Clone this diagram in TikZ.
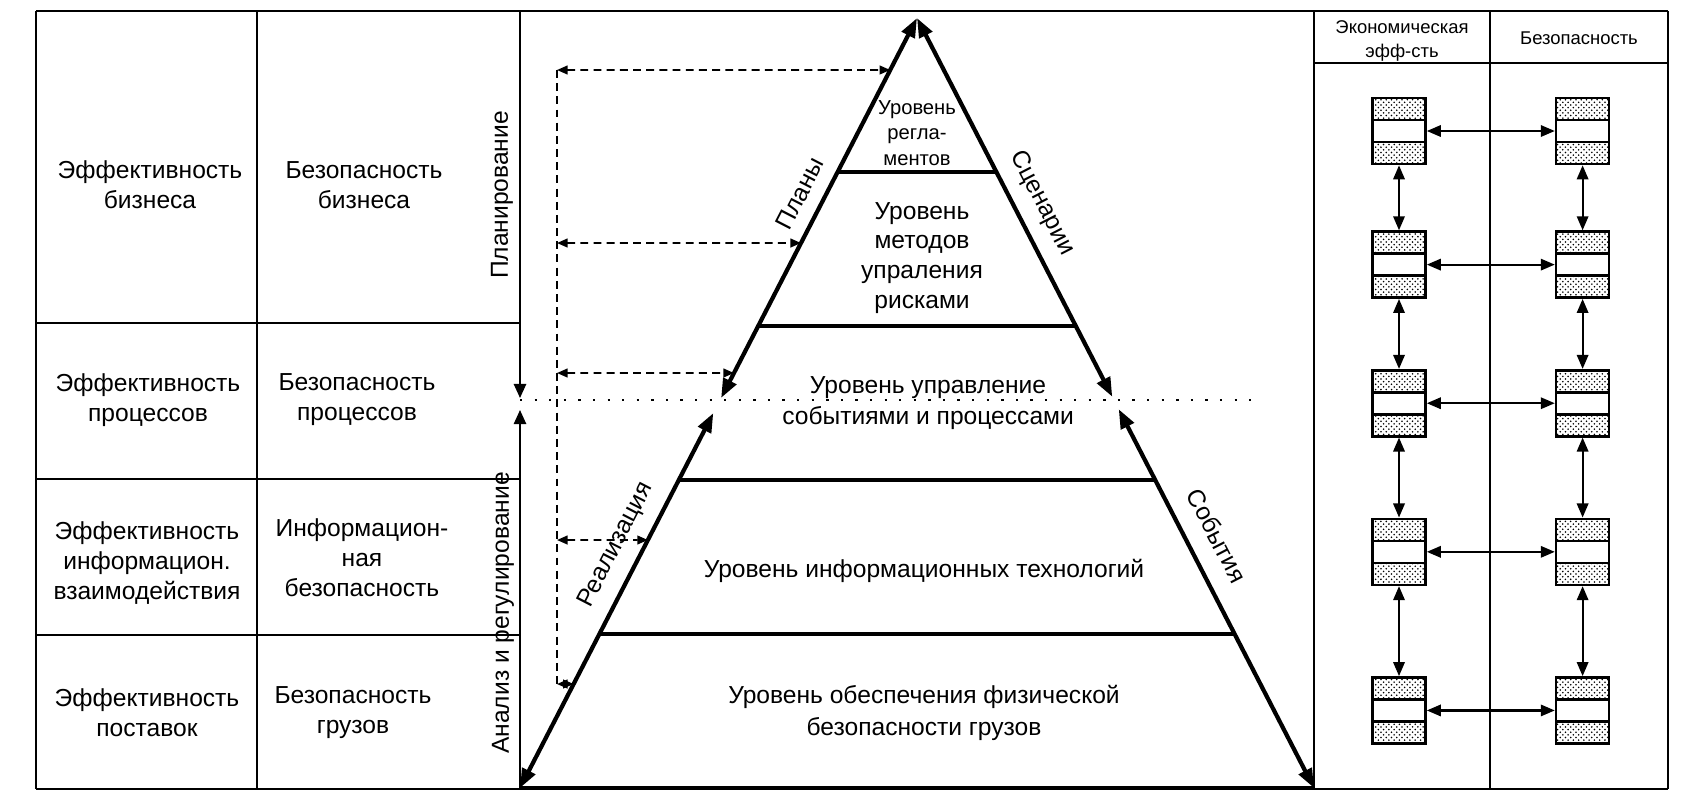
\documentclass[tikz,border=0pt]{standalone}
\usepackage{fontspec}
\setmainfont{Liberation Sans}
\usetikzlibrary{positioning, calc, arrows.meta, patterns}

\begin{document}
\begin{tikzpicture}[
    x=0.02cm, y=-0.02cm,
    cell/.style={align=center, font=\fontsize{14}{17}\selectfont},
    tier/.style={align=center, font=\fontsize{14}{18}\selectfont},
    sidelabel/.style={sloped, above=5pt, font=\fontsize{14}{17}\selectfont},
    header/.style={align=center, font=\fontsize{10.5}{14}\selectfont},
    frame/.style={line width=1pt},
    tierline/.style={line width=2.4pt},
    rib/.style={line width=2.4pt, {Triangle[length=11pt,width=8pt]}-{Triangle[length=11pt,width=8pt]}},
    guide/.style={line width=1pt, -{Triangle[length=8pt,width=7pt]}},
    probe/.style={dash pattern=on 4.5pt off 3pt, line width=0.9pt, {Triangle[length=6pt,width=5pt]}-{Triangle[length=6pt,width=5pt]}},
    slot/.style={draw, line width=1.5pt, minimum width=1.06cm, minimum height=1.32cm, inner sep=0pt,
        pattern=crosshatch dots, pattern color=black,
        path picture={\draw[line width=1.5pt, fill=white]
            ($(path picture bounding box.west)+(-5,-11)$) rectangle
            ($(path picture bounding box.east)+(5,11)$);}},
    link/.style={line width=1.2pt, {Triangle[length=8pt,width=6.5pt]}-{Triangle[length=8pt,width=6.5pt]}}
]
\useasboundingbox (0,0) rectangle (1683,806);

% Frame and grid
\draw[frame] (36,11) -- (1668,11);
\draw[frame] (36,789) -- (1668,789);
\draw[frame] (36,11) -- (36,789);
\draw[frame] (257,11) -- (257,789);
\draw[frame] (36,323) -- (520,323);
\draw[frame] (36,479) -- (520,479);
\draw[frame] (36,635) -- (520,635);
\draw[frame] (1314,11) -- (1314,789);
\draw[frame] (1490,11) -- (1490,789);
\draw[frame] (1668,11) -- (1668,789);
\draw[frame] (1314,63) -- (1668,63);

% Left table
\node[cell] (effbiz) at (150,185) {Эффективность\\бизнеса};
\node[cell] (safebiz) at (364,185) {Безопасность\\бизнеса};
\node[cell] (effproc) at (148,400) {Эффективность\\процессов};
\node[cell] (safeproc) at (357,400) {Безопасность\\процессов};
\node[cell] (effinfo) at (147,563) {Эффективность\\информацион.\\взаимодействия};
\node[cell] (safeinfo) at (362,558) {Информацион-\\ная\\безопасность};
\node[cell] (effsupply) at (147,713) {Эффективность\\поставок};
\node[cell] (safecargo) at (353,713) {Безопасность\\грузов};
\node[cell, rotate=90] (planning) at (502,195) {Планирование};
\node[cell, rotate=90] (analysis) at (503,613) {Анализ и регулирование};

% Planning / analysis axis
\coordinate (gtop) at (520,11);
\coordinate (gmidup) at (520,398);
\coordinate (gmiddown) at (520,410);
\coordinate (gbot) at (520,789);
\draw[guide] (gtop) -- (gmidup);
\draw[guide] (gbot) -- (gmiddown);

% Pyramid
\coordinate (apex) at (917,18);
\coordinate (bl) at (520,788);
\coordinate (br) at (1314,788);
\foreach \t in {0.2,0.4,0.6,0.8}
  \draw[tierline] ($(apex)!\t!(bl)$) -- ($(apex)!\t!(br)$);
\draw[tierline] (bl) -- (br);

\coordinate (lu) at ($(apex)!0.4935!(bl)$);
\coordinate (ll) at ($(apex)!0.513!(bl)$);
\coordinate (ru) at ($(apex)!0.492!(br)$);
\coordinate (rl) at ($(apex)!0.508!(br)$);
\draw[rib] (lu) -- (apex);
\draw[rib] (bl) -- (ll);
\draw[rib] (apex) -- (ru);
\draw[rib] (rl) -- (br);

\path (bl) -- (apex) node[sidelabel, pos=0.30] (realiz) {Реализация}
                     node[sidelabel, pos=0.758] (plans) {Планы};
\path (apex) -- (br) node[sidelabel, pos=0.256] (scen) {Сценарии}
                     node[sidelabel, above=8pt, pos=0.69] (events) {События};

% Levels
\node[tier, font=\fontsize{11.5}{14.5}\selectfont] (regl) at (917,133) {Уровень\\регла-\\ментов};
\node[tier, font=\fontsize{14}{17}\selectfont] (risk) at (922,258) {Уровень\\методов\\упраления\\рисками};
\node[tier] (proc) at (928,403) {Уровень управление\\событиями и процессами};
\node[tier] (it) at (924,571) {Уровень информационных технологий};
\node[tier] (phys) at (924,713) {Уровень обеспечения физической\\безопасности грузов};

% Boundary between planning and analysis
\coordinate (dl) at (520,400);
\coordinate (dr) at (1262,400);
\draw[line width=1.3pt, dash pattern=on 1.3pt off 7pt] (dl) -- (dr);

% Dashed probes
\foreach \y [count=\i] in {70,243,373,540,684} {
  \coordinate (p\i) at (557,\y);
  \coordinate (q\i) at ($(apex)!{(\y-18)/770}!(bl)$);
  \draw[probe] (p\i) -- (q\i);
}
\draw[dash pattern=on 4.5pt off 3pt, line width=0.9pt] (p1) -- (p5);

% Right table
\node[header] (hecon) at (1402,41) {Экономическая\\эфф-сть};
\node[header] (hsafe) at (1579,38) {Безопасность};

\node[slot] (e1) at (1399,131) {};
\node[slot, below=1.3cm of e1] (e2) {};
\node[slot, below=1.4cm of e2] (e3) {};
\node[slot, below=1.6cm of e3] (e4) {};
\node[slot, below=1.8cm of e4] (e5) {};
\foreach \i in {1,...,5}
  \node[slot, right=2.56cm of e\i] (s\i) {};

\foreach \i in {1,...,5}
  \draw[link] (e\i) -- (s\i);
\foreach \i/\j in {1/2,2/3,3/4,4/5} {
  \draw[link] (e\i) -- (e\j);
  \draw[link] (s\i) -- (s\j);
}

\end{tikzpicture}
\end{document}
